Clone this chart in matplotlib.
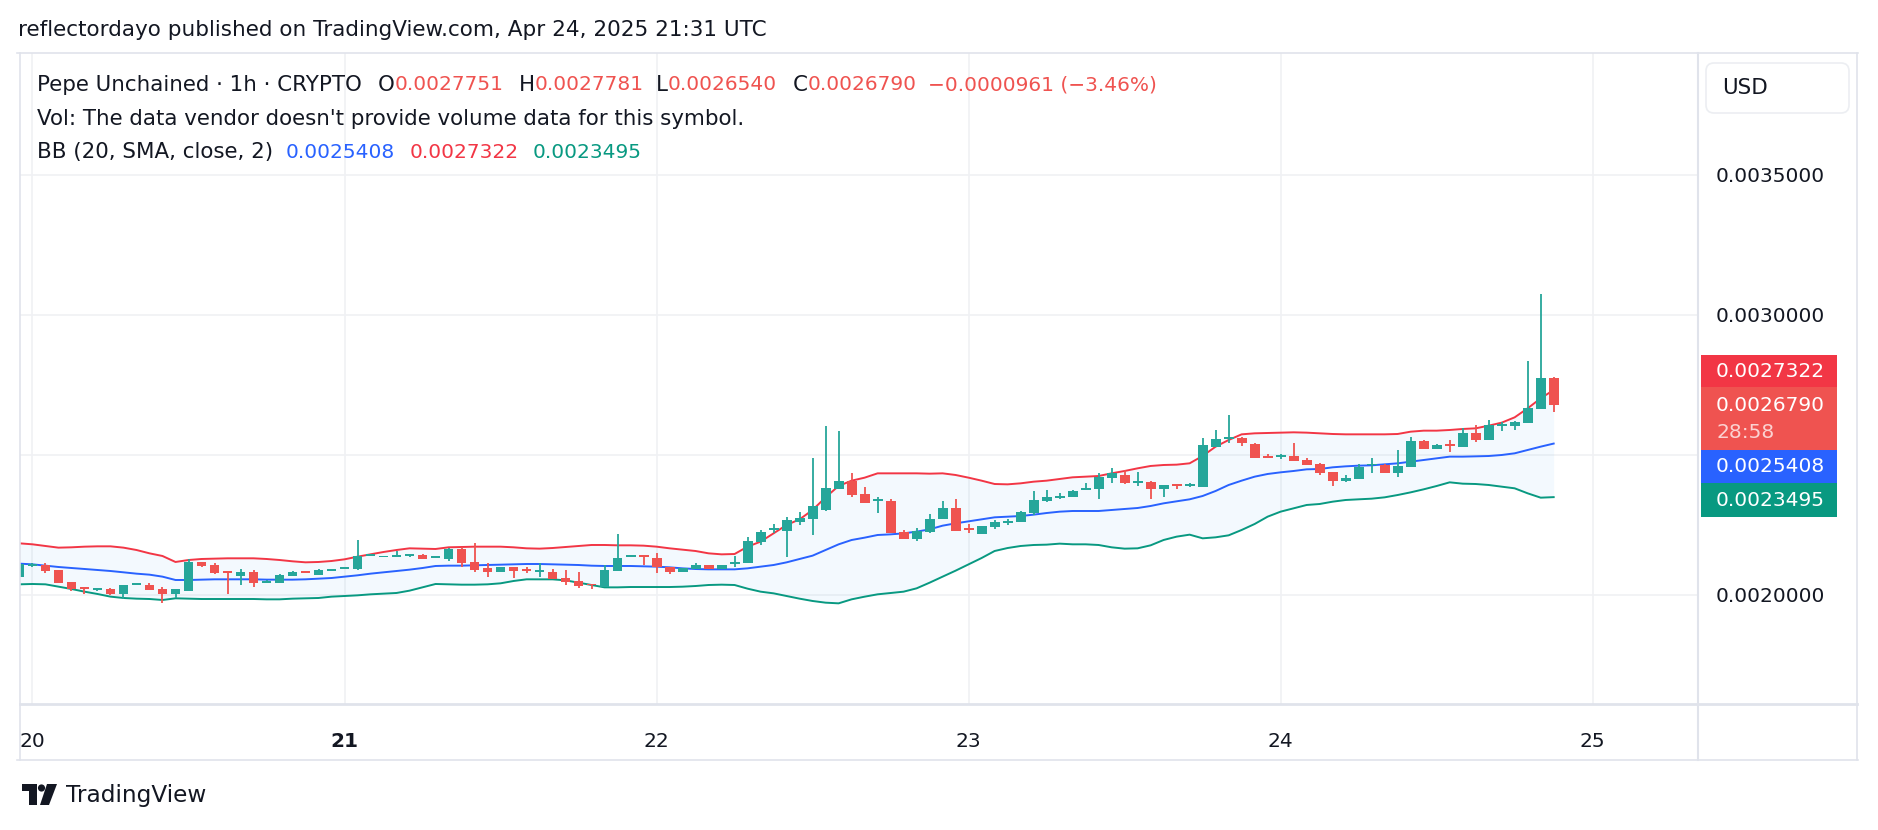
import matplotlib
matplotlib.use('Agg')
import matplotlib.pyplot as plt
from matplotlib.patches import FancyBboxPatch, Rectangle, Circle, Polygon
import numpy as np

plt.rcParams['font.family'] = ['DejaVu Sans']

# === 数据: 1h 蜡烛, 价格单位 1e-7 USD, hour 0 = Apr 20 00:00 UTC ===
UNIT = 1e-7
hours = list(range(-1, 118))

opens = [20631, 21060, 21072, 20893, 20465, 20286, 20191, 20203, 20036, 20380,
         20357, 20215, 20036, 20155, 21191, 21060, 20850, 20691, 20810, 20450,
         20441, 20691, 20840, 20726, 20880, 20960, 20941, 21410, 21357, 21381,
         21405, 21429, 21340, 21298, 21643, 21167, 20964, 20833, 21000, 20905,
         20821, 20810, 20595, 20500, 20393, 20297, 20869, 21380, 21417, 21309,
         20988, 20833, 20940, 21059, 20940, 21131, 21131, 21904, 22321, 22298,
         22619, 22726, 23036, 23797, 24071, 23595, 23369, 23369, 22262, 21988,
         22262, 22702, 23095, 22393, 22167, 22440, 22595, 22595, 22917, 23369,
         23489, 23512, 23786, 23774, 24191, 24286, 24024, 24024, 23774, 23953,
         23905, 23869, 25298, 25595, 25595, 25393, 24964, 24940, 24964, 24822,
         24679, 24381, 24071, 24155, 24643, 24643, 24345, 24583, 25488, 25202,
         25381, 25298, 25774, 25548, 26060, 26048, 26155, 26655, 27751]

highs = [22083, 21150, 21155, 20893, 20465, 20286, 20250, 20262, 20357, 20430,
         20429, 20298, 20215, 21274, 21191, 21131, 20850, 20929, 20893, 20536,
         20750, 20857, 20840, 20929, 20905, 20990, 21965, 21440, 21393, 21571,
         21453, 21465, 21393, 21691, 21703, 21846, 21131, 21000, 21000, 21012,
         21131, 20917, 20893, 20810, 20393, 21059, 22178, 21404, 21417, 21488,
         20988, 20976, 21131, 21059, 21059, 21393, 22059, 22321, 22536, 22774,
         22976, 24881, 26036, 25857, 24369, 23845, 23488, 23417, 22321, 22381,
         22893, 23357, 23417, 22524, 22464, 22679, 22714, 23000, 23714, 23750,
         23631, 23750, 23989, 24345, 24524, 24465, 24381, 24083, 23929, 23953,
         24000, 25619, 25893, 26429, 25655, 25417, 25036, 25036, 25441, 24881,
         24726, 24381, 24274, 24679, 24893, 24679, 25179, 25643, 25524, 25381,
         25524, 25952, 26060, 26250, 26167, 26214, 28357, 30750, 27781]

lows = [20631, 21012, 20798, 20441, 20155, 20048, 20155, 20000, 19869, 20380,
        20179, 19726, 19893, 20155, 21000, 20750, 20036, 20357, 20298, 20441,
        20441, 20691, 20810, 20726, 20880, 20960, 20893, 21400, 21357, 21381,
        21345, 21274, 21340, 21226, 21012, 20833, 20655, 20833, 20619, 20798,
        20654, 20571, 20357, 20262, 20202, 20297, 20869, 21380, 21071, 20797,
        20750, 20833, 20940, 20940, 20940, 20988, 21131, 21797, 22202, 21369,
        22500, 22143, 23012, 23797, 23512, 23274, 22917, 22202, 21988, 21940,
        22226, 22702, 22297, 22226, 22167, 22369, 22500, 22595, 22857, 23333,
        23417, 23512, 23786, 23417, 24012, 23953, 23893, 23417, 23512, 23798,
        23869, 23869, 25298, 25417, 25333, 24905, 24905, 24845, 24798, 24655,
        24286, 23905, 24036, 24155, 24345, 24345, 24226, 24583, 25202, 25202,
        25119, 25298, 25464, 25548, 25869, 25905, 26155, 26655, 26540]

closes = [21107, 21100, 20869, 20441, 20226, 20226, 20250, 20036, 20357, 20430,
          20179, 20036, 20215, 21191, 21036, 20798, 20810, 20810, 20441, 20500,
          20715, 20822, 20810, 20893, 20905, 20990, 21393, 21429, 21393, 21429,
          21453, 21298, 21370, 21631, 21155, 20893, 20833, 21000, 20869, 20880,
          20869, 20571, 20476, 20333, 20357, 20881, 21309, 21404, 21381, 20988,
          20833, 20952, 21059, 20940, 21059, 21167, 21916, 22238, 22369, 22678,
          22738, 23178, 23809, 24071, 23571, 23274, 23405, 22202, 21988, 22286,
          22702, 23095, 22297, 22345, 22464, 22595, 22631, 22952, 23393, 23488,
          23536, 23715, 23810, 24203, 24345, 24012, 24072, 23774, 23917, 23893,
          23941, 25358, 25560, 25640, 25417, 24905, 24905, 24988, 24798, 24655,
          24369, 24083, 24179, 24560, 24679, 24345, 24607, 25488, 25202, 25345,
          25345, 25786, 25536, 26060, 26084, 26167, 26679, 27751, 26790]

# BB (20, SMA, close, 2) 读图所得
bb_upper = [21845, 21810, 21750, 21691, 21703, 21726, 21738, 21738, 21691, 21607,
            21488, 21393, 21179, 21250, 21286, 21298, 21310, 21310, 21310, 21286,
            21250, 21203, 21167, 21179, 21214, 21274, 21369, 21453, 21536, 21607,
            21667, 21655, 21643, 21703, 21714, 21726, 21726, 21726, 21703, 21667,
            21655, 21678, 21714, 21750, 21786, 21786, 21774, 21774, 21762, 21726,
            21667, 21619, 21571, 21488, 21452, 21464, 21726, 21905, 22202, 22500,
            22702, 23036, 23488, 23893, 24083, 24190, 24345, 24345, 24345, 24345,
            24333, 24345, 24286, 24190, 24083, 23964, 23952, 23988, 24047, 24083,
            24143, 24203, 24226, 24250, 24346, 24429, 24524, 24608, 24643, 24655,
            24703, 24965, 25298, 25536, 25738, 25774, 25786, 25798, 25810, 25798,
            25774, 25750, 25738, 25738, 25738, 25738, 25750, 25833, 25869, 25869,
            25893, 25929, 25952, 26048, 26155, 26345, 26667, 27024, 27322]

bb_basis = [21119, 21095, 21048, 21000, 20964, 20929, 20893, 20857, 20810, 20762,
            20726, 20655, 20536, 20536, 20548, 20560, 20560, 20560, 20560, 20548,
            20548, 20548, 20560, 20583, 20607, 20655, 20703, 20762, 20810, 20857,
            20905, 20964, 21036, 21048, 21048, 21060, 21072, 21083, 21095, 21107,
            21107, 21095, 21083, 21071, 21047, 21036, 21036, 21036, 21024, 21012,
            20988, 20952, 20928, 20916, 20916, 20916, 20952, 21012, 21071, 21166,
            21286, 21405, 21607, 21809, 21964, 22048, 22143, 22166, 22202, 22262,
            22345, 22476, 22559, 22631, 22702, 22774, 22797, 22821, 22869, 22928,
            22976, 23000, 23000, 23000, 23036, 23072, 23107, 23179, 23274, 23346,
            23417, 23536, 23715, 23929, 24084, 24226, 24322, 24381, 24429, 24488,
            24500, 24560, 24595, 24619, 24631, 24667, 24702, 24762, 24821, 24881,
            24941, 24941, 24952, 24964, 25000, 25060, 25179, 25298, 25408]

bb_lower = [20381, 20393, 20381, 20298, 20214, 20119, 20036, 19941, 19893, 19869,
            19857, 19822, 19881, 19869, 19857, 19857, 19857, 19857, 19857, 19845,
            19845, 19869, 19881, 19893, 19941, 19964, 19988, 20024, 20048, 20072,
            20155, 20274, 20393, 20381, 20369, 20369, 20381, 20417, 20500, 20560,
            20559, 20559, 20523, 20440, 20357, 20273, 20273, 20285, 20285, 20285,
            20285, 20297, 20321, 20357, 20369, 20357, 20226, 20119, 20059, 19964,
            19869, 19786, 19726, 19702, 19845, 19940, 20024, 20071, 20119, 20238,
            20440, 20655, 20869, 21095, 21321, 21571, 21678, 21750, 21786, 21798,
            21834, 21810, 21810, 21786, 21703, 21655, 21667, 21774, 21965, 22084,
            22155, 22024, 22060, 22131, 22322, 22536, 22798, 22977, 23096, 23215,
            23250, 23333, 23393, 23417, 23440, 23488, 23571, 23666, 23774, 23893,
            24024, 23976, 23964, 23929, 23869, 23810, 23631, 23476, 23495]

day_ticks = [0, 24, 48, 72, 96, 120]
day_labels = ['20', '21', '22', '23', '24', '25']
price_ticks = [0.0020, 0.0025, 0.0030, 0.0035]
price_labels = ['0.0020000', '', '0.0030000', '0.0035000']
countdown = '28:58'

# === 配色 ===
UP = '#26a69a'
DOWN = '#ef5350'
C_UPPER = '#F23645'
C_BASIS = '#2962FF'
C_LOWER = '#089981'
DARK = '#131722'
GRID = '#f0f1f4'
BORDER = '#e0e3eb'
NUM_FS = 14.5    # 数字字号
TXT_FS = 15.4    # 文字字号

W, H = 1878, 830
fig = plt.figure(figsize=(W / 100, H / 100), dpi=100)
fig.patch.set_facecolor('white')

# === 主图 ===
ax = fig.add_axes([20 / W, 1 - 704 / H, (1698 - 20) / W, (704 - 53) / H])
ax.set_xlim(-0.96, 128.1)
ax.set_ylim(0.0016107, 0.0039357)
for s in ax.spines.values():
    s.set_visible(False)

x = np.array(hours)
o = np.array(opens) * UNIT
h = np.array(highs) * UNIT
l = np.array(lows) * UNIT
c = np.array(closes) * UNIT
cols = np.where(c >= o, UP, DOWN)

up_b = np.array(bb_upper) * UNIT
mid_b = np.array(bb_basis) * UNIT
lo_b = np.array(bb_lower) * UNIT
ax.fill_between(x, lo_b, up_b, color='#2196F3', alpha=0.05, lw=0, zorder=1)
ax.plot(x, up_b, color=C_UPPER, lw=1.4, zorder=2)
ax.plot(x, mid_b, color=C_BASIS, lw=1.4, zorder=2)
ax.plot(x, lo_b, color=C_LOWER, lw=1.4, zorder=2)

# 蜡烛
min_h = 7e-6
body = np.abs(c - o)
bottom = np.where(body < min_h, (o + c) / 2 - min_h / 2, np.minimum(o, c))
ax.vlines(x, l, h, colors=cols, lw=1.3, zorder=3)
ax.bar(x, np.maximum(body, min_h), bottom=bottom, width=0.76, color=cols,
       lw=0, zorder=4)

ax.set_xticks(day_ticks)
ax.set_xticklabels(day_labels, fontsize=NUM_FS, color=DARK)
ax.get_xticklabels()[1].set_fontweight('bold')
ax.set_yticks(price_ticks)
ax.set_yticklabels(price_labels, fontsize=NUM_FS, color=DARK)
ax.yaxis.tick_right()
ax.tick_params(axis='x', length=0, pad=20)
ax.tick_params(axis='y', length=0, pad=13)
ax.grid(True, color=GRID, lw=1.2, zorder=0)
ax.set_axisbelow(True)

# === 覆盖层 (像素坐标) ===
ov = fig.add_axes([0, 0, 1, 1])
ov.set_xlim(0, W)
ov.set_ylim(H, 0)
ov.axis('off')

# 边框
ov.plot([17, 1858], [53, 53], color=BORDER, lw=1.2)
ov.plot([20, 20], [53, 760], color=BORDER, lw=1.2)
ov.plot([1857, 1857], [53, 760], color=BORDER, lw=1.2)
ov.plot([1698, 1698], [53, 760], color=BORDER, lw=1.5)
ov.plot([20, 1857], [704, 704], color=BORDER, lw=2.0)
ov.plot([17, 1858], [760, 760], color=BORDER, lw=1.2)

# USD 按钮
ov.add_patch(FancyBboxPatch((1706, 63), 143, 50,
                            boxstyle='round,pad=0,rounding_size=8',
                            fc='white', ec='#eceef2', lw=1.2))
ov.text(1722, 88, 'USD', fontsize=TXT_FS, color=DARK, va='center', ha='left')

# 标题
ov.text(18, 30, 'reflectordayo published on TradingView.com, Apr 24, 2025 21:31 UTC',
        fontsize=15.5, color=DARK, va='center', ha='left')

renderer = fig.canvas.get_renderer()


def run(x0, y0, parts):
    for txt, col, size in parts:
        t = ov.text(x0, y0, txt, color=col, fontsize=size, va='center', ha='left')
        x0 += t.get_window_extent(renderer).width


def fmt(v):
    return f'{v * UNIT:.7f}'


chg = closes[-1] - closes[-2]
pct = chg / closes[-2] * 100
chg_txt = f'{fmt(chg)} ({pct:.2f}%)'.replace('-', '\u2212')

run(37, 85, [('Pepe Unchained · 1h · CRYPTO', DARK, TXT_FS)])
run(378, 85, [('O', DARK, TXT_FS), (fmt(opens[-1]), DOWN, NUM_FS)])
run(519, 85, [('H', DARK, TXT_FS), (fmt(highs[-1]), DOWN, NUM_FS)])
run(656, 85, [('L', DARK, TXT_FS), (fmt(lows[-1]), DOWN, NUM_FS)])
run(793, 85, [('C', DARK, TXT_FS), (fmt(closes[-1]), DOWN, NUM_FS)])
run(928, 85, [(chg_txt, DOWN, NUM_FS)])
run(37, 119, [("Vol: The data vendor doesn't provide volume data for this symbol.", DARK, TXT_FS)])
run(37, 152, [('BB (20, SMA, close, 2)', DARK, TXT_FS)])
run(286, 152, [(fmt(bb_basis[-1]), C_BASIS, NUM_FS)])
run(410, 152, [(fmt(bb_upper[-1]), C_UPPER, NUM_FS)])
run(533, 152, [(fmt(bb_lower[-1]), C_LOWER, NUM_FS)])

# 右侧价格标签
tags = [(355, 387, C_UPPER, fmt(bb_upper[-1])),
        (387, 450, '#EF5350', fmt(closes[-1])),
        (450, 483, C_BASIS, fmt(bb_basis[-1])),
        (483, 517, C_LOWER, fmt(bb_lower[-1]))]
for y0, y1, col, txt in tags:
    ov.add_patch(Rectangle((1701, y0), 136, y1 - y0, fc=col, ec='none'))
    if y1 - y0 > 40:
        ov.text(1716, y0 + 18, txt, fontsize=NUM_FS, color='white', va='center')
        ov.text(1716, y0 + 45, countdown, fontsize=NUM_FS, color='#fbd2d1', va='center')
    else:
        ov.text(1716, (y0 + y1) / 2, txt, fontsize=NUM_FS, color='white', va='center')

# TradingView 标志
ov.add_patch(Polygon([(22, 784), (37, 784), (37, 805), (29, 805), (29, 791), (22, 791)],
                     closed=True, fc=DARK, ec='none'))
ov.add_patch(Circle((41.5, 788), 3.6, fc=DARK, ec='none'))
ov.add_patch(Polygon([(47, 784), (57, 784), (49, 805), (40, 805)],
                     closed=True, fc=DARK, ec='none'))
ov.text(66, 795, 'TradingView', fontsize=16.7, color=DARK, va='center', ha='left')

fig.savefig('out.png', dpi=100, facecolor='white')
plt.close()
